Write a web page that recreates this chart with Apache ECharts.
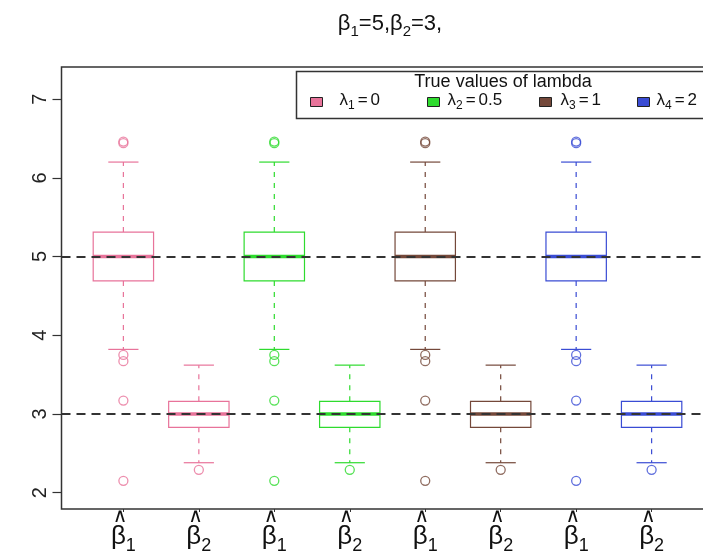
<!DOCTYPE html>
<html>
<head>
<meta charset="utf-8">
<script src="https://cdn.jsdelivr.net/npm/echarts@6/dist/echarts.min.js"></script>
<style>
  html, body { margin: 0; padding: 0; background: #fff; }
  #chart { width: 703px; height: 554px; }
</style>
</head>
<body>
<div id="chart"></div>
<script>
// Simulated estimates of beta1 and beta2 under four true values of lambda
const lambdaValues = ['0', '0.5', '1', '2'];
const paramIndex = ['1', '2', '1', '2', '1', '2', '1', '2'];
const boxPositions = [1, 2, 3, 4, 5, 6, 7, 8];
const trueBetas = [5, 3];
const yTickValues = [2, 3, 4, 5, 6, 7];

// [lower whisker, Q1, median, Q3, upper whisker] for each box
const boxStats = [
  [3.82, 4.69, 5.00, 5.31, 6.20],
  [2.38, 2.83, 3.00, 3.16, 3.62],
  [3.82, 4.69, 5.00, 5.31, 6.20],
  [2.38, 2.83, 3.00, 3.16, 3.62],
  [3.82, 4.69, 5.00, 5.31, 6.20],
  [2.38, 2.83, 3.00, 3.16, 3.62],
  [3.82, 4.69, 5.00, 5.31, 6.20],
  [2.38, 2.83, 3.00, 3.16, 3.62]
];
const outlierValues = [
  [6.44, 6.46, 3.75, 3.67, 3.17, 2.15],
  [2.29],
  [6.44, 6.46, 3.75, 3.67, 3.17, 2.15],
  [2.29],
  [6.44, 6.46, 3.75, 3.67, 3.17, 2.15],
  [2.29],
  [6.44, 6.46, 3.75, 3.67, 3.17, 2.15],
  [2.29]
];

const palette = ['#E8739A', '#2EDB2E', '#74483A', '#3A4CD4'];
const font = 'Liberation Sans, Arial, sans-serif';

const groupNames = lambdaValues.map((v, i) => 'λ' + (i + 1) + ' = ' + v);

function renderBox(params, api) {
  const x = api.value(0);
  const low = api.coord([x, api.value(1)]);
  const q1 = api.coord([x, api.value(2)]);
  const med = api.coord([x, api.value(3)]);
  const q3 = api.coord([x, api.value(4)]);
  const high = api.coord([x, api.value(5)]);
  const half = api.size([0.8, 0])[0] / 2;
  const capHalf = half / 2;
  const cx = med[0];
  const color = api.visual('color');
  const thin = { stroke: color, lineWidth: 1.2, fill: null };
  return {
    type: 'group',
    children: [
      { type: 'line', shape: { x1: cx, y1: q3[1], x2: cx, y2: high[1] },
        style: Object.assign({}, thin, { lineDash: [5, 6] }) },
      { type: 'line', shape: { x1: cx, y1: q1[1], x2: cx, y2: low[1] },
        style: Object.assign({}, thin, { lineDash: [5, 6] }) },
      { type: 'line', shape: { x1: cx - capHalf, y1: high[1], x2: cx + capHalf, y2: high[1] }, style: thin },
      { type: 'line', shape: { x1: cx - capHalf, y1: low[1], x2: cx + capHalf, y2: low[1] }, style: thin },
      { type: 'rect', shape: { x: cx - half, y: q3[1], width: 2 * half, height: q1[1] - q3[1] }, style: thin },
      { type: 'line', shape: { x1: cx - half, y1: med[1], x2: cx + half, y2: med[1] },
        style: { stroke: color, lineWidth: 3.5 } }
    ]
  };
}

const series = [];
lambdaValues.forEach((v, g) => {
  const idx = [2 * g, 2 * g + 1];
  series.push({
    type: 'custom',
    name: groupNames[g],
    renderItem: renderBox,
    itemStyle: { color: palette[g] },
    encode: { x: 0, y: [1, 2, 3, 4, 5] },
    data: idx.map(i => [boxPositions[i]].concat(boxStats[i])),
    z: 2
  });
});
lambdaValues.forEach((v, g) => {
  const pts = [];
  [2 * g, 2 * g + 1].forEach(i => outlierValues[i].forEach(o => pts.push([boxPositions[i], o])));
  series.push({
    type: 'scatter',
    name: groupNames[g],
    symbol: 'circle',
    symbolSize: 9,
    itemStyle: { color: 'rgba(0,0,0,0)', borderColor: palette[g], borderWidth: 1.3 },
    data: pts,
    z: 3
  });
});
// reference lines at the true coefficient values
series.push({
  type: 'line',
  data: [],
  markLine: {
    silent: true,
    symbol: 'none',
    label: { show: false },
    lineStyle: { color: '#333', width: 2, type: [9, 6] },
    data: trueBetas.map(b => ({ yAxis: b }))
  },
  z: 6
});

// legend entries, one component each so they can sit at fixed spots
const legendLeft = [310, 427, 539, 637];
const legendTextPad = [12, 3, 4, 2];
const legends = groupNames.map((name, g) => ({
  show: true,
  left: legendLeft[g],
  top: 92,
  padding: 0,
  itemWidth: 12,
  itemHeight: 9,
  icon: 'rect',
  selectedMode: false,
  z: 10,
  data: [{ name: name, itemStyle: { color: palette[g], borderColor: '#222', borderWidth: 1 } }],
  formatter: () => '{t|λ}{s|' + (g + 1) + '}{e|=}{t|' + lambdaValues[g] + '}',
  textStyle: {
    padding: [0, 0, 0, legendTextPad[g]],
    rich: {
      t: { fontSize: 17, fontFamily: font, color: '#111', verticalAlign: 'bottom', padding: [0, 0, 3, 0] },
      e: { fontSize: 17, fontFamily: font, color: '#111', verticalAlign: 'bottom', padding: [0, 3, 3, 3] },
      s: { fontSize: 12, fontFamily: font, color: '#111', verticalAlign: 'bottom' }
    }
  }
}));

const chart = echarts.init(document.getElementById('chart'), null, { renderer: 'canvas' });
chart.setOption({
  backgroundColor: '#fff',
  animation: false,
  title: {
    text: '{t|β}{s|1}{t|=5,β}{s|2}{t|=3,}',
    left: 385, top: 8, textAlign: 'center',
    textStyle: {
      fontWeight: 'normal',
      rich: {
        t: { fontSize: 22, fontWeight: 'normal', fontFamily: font, color: '#111', verticalAlign: 'bottom', padding: [0, 0, 4, 0] },
        s: { fontSize: 15, fontWeight: 'normal', fontFamily: font, color: '#111', verticalAlign: 'bottom' }
      }
    }
  },
  legend: legends,
  graphic: [
    { type: 'rect', z: 5, shape: { x: 296.5, y: 71.5, width: 440, height: 47 },
      style: { fill: '#fff', stroke: '#333', lineWidth: 1.5 } },
    { type: 'text', z: 6, x: 503, y: 82,
      style: { text: 'True values of lambda', fontSize: 18, fontFamily: font, fill: '#111',
               align: 'center', verticalAlign: 'middle' } }
  ],
  grid: {
    show: true, left: 61.5, top: 67, width: 652, height: 442,
    outerBoundsMode: 'none', containLabel: false,
    borderColor: '#333', borderWidth: 1.5, backgroundColor: 'transparent'
  },
  xAxis: {
    type: 'value', min: 0.18, max: 8.82,
    axisLine: { show: false },
    splitLine: { show: false },
    axisTick: { show: true, customValues: boxPositions, length: 3, lineStyle: { color: '#333' } },
    axisLabel: {
      customValues: boxPositions,
      margin: 1,
      formatter: v => '{h|∧}{hs|' + paramIndex[v - 1] + '}\n{b|β}{s|' + paramIndex[v - 1] + '}',
      rich: {
        h: { fontSize: 20, fontFamily: 'DejaVu Sans', color: '#111', lineHeight: 14 },
        hs: { fontSize: 12, fontFamily: font, color: 'rgba(0,0,0,0)', lineHeight: 14 },
        b: { fontSize: 26, fontFamily: font, color: '#111', verticalAlign: 'bottom', padding: [0, 0, 5, 0] },
        s: { fontSize: 18, fontFamily: font, color: '#111', verticalAlign: 'bottom' }
      }
    }
  },
  yAxis: {
    type: 'value', min: 1.792, max: 7.408,
    axisLine: { show: false },
    splitLine: { show: false },
    axisTick: { show: true, customValues: yTickValues, length: 9, lineStyle: { color: '#333', width: 1.2 } },
    axisLabel: {
      customValues: yTickValues, rotate: 90, margin: 11,
      fontSize: 20, fontFamily: font, color: '#222'
    }
  },
  series: series
});
</script>
</body>
</html>
